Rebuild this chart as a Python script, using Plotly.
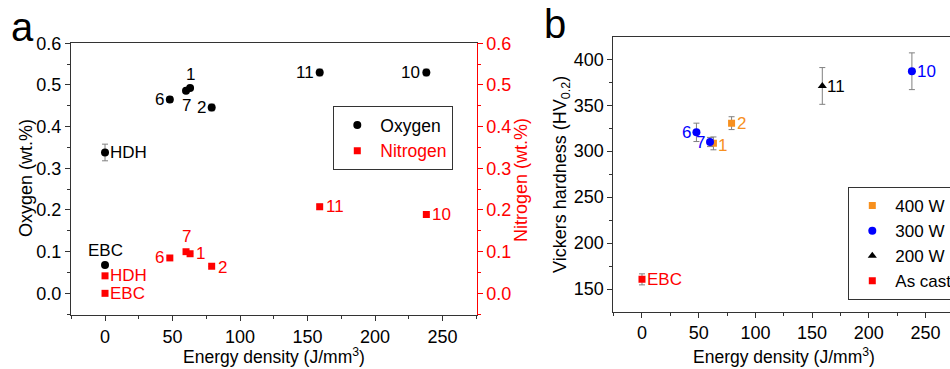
import plotly.graph_objects as go

# ---------------- data ----------------
labels_ox = ["EBC", "HDH", "6", "7", "1", "2", "11", "10"]
oxy_x = [0, 0, 48, 60, 63, 79, 159, 238]
oxy_y = [0.068, 0.338, 0.465, 0.486, 0.493, 0.446, 0.530, 0.530]
oxy_err = [0.0, 0.020, 0.007, 0.004, 0.004, 0.008, 0.008, 0.008]

labels_ni = ["EBC", "HDH", "6", "7", "1", "2", "11", "10"]
nit_x = [0, 0, 48, 60, 63, 79, 159, 238]
nit_y = [0.0, 0.042, 0.085, 0.100, 0.095, 0.065, 0.208, 0.189]
nit_err = [0.0, 0.0, 0.0, 0.0, 0.0, 0.0, 0.006, 0.0]

hv400_x = [63, 79]
hv400_y = [308.5, 330.5]
hv400_err = [7, 7]
hv400_lab = ["1", "2"]

hv300_x = [48, 60, 238]
hv300_y = [320.5, 310.0, 387.0]
hv300_err = [10, 5, 20]
hv300_lab = ["6", "7", "10"]

hv200_x = [159]
hv200_y = [371.0]
hv200_err = [20]
hv200_lab = ["11"]

cast_x = [0]
cast_y = [160.5]
cast_err = [6]
cast_lab = ["EBC"]

# ---------------- style ----------------
FONT = "Liberation Sans, Arial, sans-serif"
BLACK = "#000000"
RED = "#FF0000"
ORANGE = "#F7901E"
BLUE = "#0000FF"
AXC = "#333333"
ERRC = "#808080"
W, H = 950, 369
TICK = 18
LAB = 17
TITLE = 18

def px_x(p):
    return p / W

def px_y(p):
    return (H - p) / H

# label placement: (xanchor, xshift, yshift)
place_ox = {"EBC": ("center", 0, 14), "HDH": ("left", 3, 0), "6": ("right", -4, 0),
            "7": ("center", 0, -15), "1": ("center", 0, 13), "2": ("right", -4, 0),
            "11": ("right", -4, 0), "10": ("right", -4, 0)}
place_ni = {"EBC": ("left", 3, 0), "HDH": ("left", 3, 0), "6": ("right", -4, 0),
            "7": ("center", 0, 15), "1": ("left", 4, 0), "2": ("left", 4, -1),
            "11": ("left", 4, 0), "10": ("left", 4, 0)}
place_hv = {"EBC": ("left", 3, 0), "6": ("right", -3, 0), "7": ("right", -3, -1),
            "1": ("left", 3, -2), "2": ("left", 3, 0), "11": ("left", 3, -1),
            "10": ("left", 3, 0)}

fig = go.Figure()

def err(arr):
    return dict(type="data", array=arr, visible=True, color=ERRC, thickness=1, width=3)

# ---- panel a ----
fig.add_trace(go.Scatter(x=oxy_x, y=oxy_y, mode="markers", name="Oxygen",
                         marker=dict(symbol="circle", size=8, color=BLACK),
                         error_y=err(oxy_err), xaxis="x", yaxis="y", legend="legend"))
fig.add_trace(go.Scatter(x=nit_x, y=nit_y, mode="markers",
                         name="<span style='color:#FF0000'>Nitrogen</span>",
                         marker=dict(symbol="square", size=7, color=RED),
                         error_y=err(nit_err), xaxis="x", yaxis="y2", legend="legend"))

# ---- panel b ----
fig.add_trace(go.Scatter(x=hv400_x, y=hv400_y, mode="markers", name="400 W",
                         marker=dict(symbol="square", size=7, color=ORANGE),
                         error_y=err(hv400_err), xaxis="x2", yaxis="y3", legend="legend2"))
fig.add_trace(go.Scatter(x=hv300_x, y=hv300_y, mode="markers", name="300 W",
                         marker=dict(symbol="circle", size=8, color=BLUE),
                         error_y=err(hv300_err), xaxis="x2", yaxis="y3", legend="legend2"))
fig.add_trace(go.Scatter(x=hv200_x, y=hv200_y, mode="markers", name="200 W",
                         marker=dict(symbol="triangle-up", size=8, color=BLACK),
                         error_y=err(hv200_err), xaxis="x2", yaxis="y3", legend="legend2"))
fig.add_trace(go.Scatter(x=cast_x, y=cast_y, mode="markers", name="As cast",
                         marker=dict(symbol="square", size=7, color=RED),
                         error_y=err(cast_err), xaxis="x2", yaxis="y3", legend="legend2"))

annotations = []

def add_labels(xs, ys, labs, place, xref, yref, color, size=LAB):
    for x, y, t in zip(xs, ys, labs):
        xa, xs_, ys_ = place[t]
        annotations.append(dict(x=x, y=y, xref=xref, yref=yref, text=t, showarrow=False,
                                xanchor=xa, yanchor="middle", xshift=xs_, yshift=ys_,
                                font=dict(family=FONT, size=size, color=color)))

add_labels(oxy_x, oxy_y, labels_ox, place_ox, "x", "y", BLACK)
add_labels(nit_x, nit_y, labels_ni, place_ni, "x", "y2", RED)
add_labels(hv400_x, hv400_y, hv400_lab, place_hv, "x2", "y3", ORANGE)
add_labels(hv300_x, hv300_y, hv300_lab, place_hv, "x2", "y3", BLUE)
add_labels(hv200_x, hv200_y, hv200_lab, place_hv, "x2", "y3", BLACK)
add_labels(cast_x, cast_y, cast_lab, place_hv, "x2", "y3", RED)

def title_ann(text, x, y, angle=0, color=BLACK, size=TITLE):
    annotations.append(dict(x=px_x(x), y=px_y(y), xref="paper", yref="paper", text=text,
                            showarrow=False, textangle=angle, xanchor="center", yanchor="middle",
                            font=dict(family=FONT, size=size, color=color)))

title_ann("Energy density (J/mm<sup>3</sup>)", 274, 356, size=17.5)
title_ann("Energy density (J/mm<sup>3</sup>)", 784, 355.5, size=17.5)
title_ann("Oxygen (wt.%)", 26, 178, -90)
title_ann("Nitrogen (wt.%)", 521, 180, -90, RED)
title_ann("Vickers hardness (HV<sub>0.2</sub>)", 561, 175, -90)
title_ann("a", 22, 27, 0, BLACK, 40)
title_ann("b", 555, 24, 0, BLACK, 40)

base = dict(showline=True, linewidth=1, ticks="outside", ticklen=5, tickwidth=1,
            showgrid=False, zeroline=False)
tf = dict(family=FONT, size=TICK, color=BLACK)

fig.update_layout(
    width=W, height=H,
    margin=dict(l=0, r=0, t=0, b=0, autoexpand=False),
    paper_bgcolor="white", plot_bgcolor="white",
    showlegend=True,
    annotations=annotations,
    xaxis=dict(domain=[px_x(71), px_x(476.7)], range=[-25.2, 275.3], anchor="y",
               dtick=50, tick0=0, mirror=True, linecolor=AXC, tickcolor=AXC,
               minor=dict(dtick=25, tick0=0, ticks="outside", ticklen=3, tickcolor=AXC),
               tickfont=tf, **base),
    yaxis=dict(domain=[px_y(315), px_y(43.3)], range=[-0.052, 0.6], anchor="x",
               dtick=0.1, tick0=0, tickformat=".1f", linecolor=AXC, tickcolor=AXC,
               minor=dict(dtick=0.05, tick0=0, ticks="outside", ticklen=3, tickcolor=AXC),
               tickfont=tf, **base),
    yaxis2=dict(overlaying="y", side="right", anchor="x", range=[-0.052, 0.6],
                dtick=0.1, tick0=0, tickformat=".1f", linecolor=RED, tickcolor=RED,
                minor=dict(dtick=0.05, tick0=0, ticks="outside", ticklen=3, tickcolor=RED),
                tickfont=dict(family=FONT, size=TICK, color=RED), **base),
    xaxis2=dict(domain=[px_x(613.3), 1.0], range=[-25.3, 271.6], anchor="y3",
                dtick=50, tick0=0, mirror=True, linecolor=AXC, tickcolor=AXC,
                minor=dict(dtick=25, tick0=0, ticks="outside", ticklen=3, tickcolor=AXC),
                tickfont=tf, **base),
    yaxis3=dict(domain=[px_y(311.7), px_y(36.7)], range=[125.3, 424.6], anchor="x2",
                dtick=50, tick0=0, linecolor=AXC, tickcolor=AXC,
                minor=dict(dtick=25, tick0=0, ticks="outside", ticklen=3, tickcolor=AXC),
                tickfont=tf, **base),
    legend=dict(x=px_x(333.3), y=px_y(106), xanchor="left", yanchor="top",
                bordercolor=AXC, borderwidth=1, bgcolor="white",
                font=dict(family=FONT, size=17.5, color=BLACK), itemwidth=36,
                tracegroupgap=0),
    legend2=dict(x=px_x(848.3), y=px_y(187), xanchor="left", yanchor="top",
                 bordercolor=AXC, borderwidth=1, bgcolor="white",
                 font=dict(family=FONT, size=17, color=BLACK), itemwidth=36,
                 tracegroupgap=0),
)

fig.write_html("out.html")
